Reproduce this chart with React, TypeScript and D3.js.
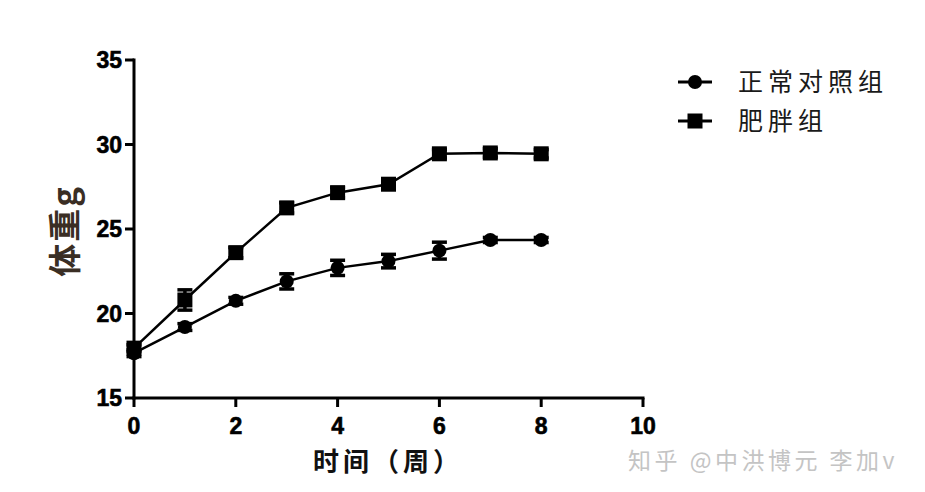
import React from "react";
import * as d3 from "d3";

const weeks = [0, 1, 2, 3, 4, 5, 6, 7, 8];
const normalMean = [17.65, 19.2, 20.75, 21.9, 22.7, 23.1, 23.72, 24.35, 24.35];
const normalErr = [0.2, 0.2, 0.2, 0.45, 0.45, 0.4, 0.5, 0.15, 0.15];
const obeseMean = [17.95, 20.8, 23.6, 26.25, 27.15, 27.65, 29.45, 29.5, 29.45];
const obeseErr = [0.2, 0.6, 0.3, 0.3, 0.3, 0.3, 0.25, 0.25, 0.25];
const xTicks = [0, 2, 4, 6, 8, 10];
const yTicks = [15, 20, 25, 30, 35];
const seriesNames = ["正常对照组", "肥胖组"];

const W = 925;
const H = 492;

export default function App() {
  const x = d3.scaleLinear().domain([0, 10]).range([134, 643]);
  const y = d3.scaleLinear().domain([15, 35]).range([398, 60]);
  const line = d3
    .line<number>()
    .x((_, i) => x(weeks[i]))
    .y((d) => y(d));

  const tickFont = "'Liberation Sans Narrow', 'Liberation Sans', Arial, sans-serif";
  const cjk = "'Noto Sans CJK SC', 'Noto Sans', sans-serif";
  const capW = 7.5;

  const errBars = (means: number[], errs: number[], key: string) =>
    means.map((m, i) => {
      const cx = x(weeks[i]);
      const y1 = y(m + errs[i]);
      const y2 = y(m - errs[i]);
      return (
        <g key={key + i} stroke="#000" strokeWidth={3.5}>
          <line x1={cx} x2={cx} y1={y1} y2={y2} />
          <line x1={cx - capW} x2={cx + capW} y1={y1} y2={y1} />
          <line x1={cx - capW} x2={cx + capW} y1={y2} y2={y2} />
        </g>
      );
    });

  return (
    <svg width={W} height={H} style={{ position: "absolute", left: 0, top: 0, background: "#fff" }}>
      <rect width={W} height={H} fill="#fff" />
      {/* axes */}
      <g stroke="#000" strokeWidth={3} fill="none">
        <line x1={x(0)} x2={x(0)} y1={y(35) - 1.5} y2={y(15) + 1.5} />
        <line x1={x(0) - 1.5} x2={x(10) + 1.5} y1={y(15)} y2={y(15)} />
        {yTicks.map((t) => (
          <line key={"yt" + t} x1={x(0) - 9} x2={x(0)} y1={y(t)} y2={y(t)} />
        ))}
        {xTicks.map((t) => (
          <line key={"xt" + t} x1={x(t)} x2={x(t)} y1={y(15)} y2={y(15) + 9} />
        ))}
      </g>
      <g fontFamily={tickFont} fontWeight="bold" fontSize={23} fill="#000" stroke="#000" strokeWidth={0.6}>
        {yTicks.map((t) => (
          <text key={"yl" + t} x={x(0) - 12} y={y(t)} dy="0.36em" textAnchor="end">
            {t}
          </text>
        ))}
        {xTicks.map((t) => (
          <text key={"xl" + t} x={x(t)} y={y(15) + 36} textAnchor="middle">
            {t}
          </text>
        ))}
      </g>
      {/* axis titles */}
      <text
        transform={`translate(77,231) rotate(-90)`}
        textAnchor="middle"
        fontFamily={cjk}
        fontWeight="bold"
        fontSize={33}
        letterSpacing={2}
        fill="#3a2e24"
      >
        体重g
      </text>
      <text
        x={388}
        y={471}
        textAnchor="middle"
        fontFamily={cjk}
        fontWeight="bold"
        fontSize={26}
        letterSpacing={4}
        fill="#111"
      >
        时间（周）
      </text>
      {/* lines */}
      <path d={line(obeseMean) || ""} fill="none" stroke="#000" strokeWidth={2.5} />
      <path d={line(normalMean) || ""} fill="none" stroke="#000" strokeWidth={2.5} />
      {errBars(obeseMean, obeseErr, "oe")}
      {errBars(normalMean, normalErr, "ne")}
      {obeseMean.map((m, i) => (
        <rect key={"sq" + i} x={x(weeks[i]) - 7.5} y={y(m) - 7.5} width={15} height={15} fill="#000" />
      ))}
      {normalMean.map((m, i) => (
        <circle key={"c" + i} cx={x(weeks[i])} cy={y(m)} r={7} fill="#000" />
      ))}
      {/* legend */}
      <g>
        <line x1={678} x2={712} y1={82} y2={82} stroke="#000" strokeWidth={3} />
        <circle cx={695} cy={82} r={7} fill="#000" />
        <line x1={678} x2={712} y1={121} y2={121} stroke="#000" strokeWidth={3} />
        <rect x={687.5} y={113.5} width={15} height={15} fill="#000" />
        <text x={738} y={82} dy="0.36em" fontFamily={cjk} fontSize={25} letterSpacing={5} fill="#1a1a1a">
          {seriesNames[0]}
        </text>
        <text x={738} y={121} dy="0.36em" fontFamily={cjk} fontSize={25} letterSpacing={5} fill="#1a1a1a">
          {seriesNames[1]}
        </text>
      </g>
      {/* watermark */}
      <text x={628} y={469} fontFamily={cjk} fontSize={23} letterSpacing={3.5} fill="#c4c4c4">
        知乎 @中洪博元 李加v
      </text>
    </svg>
  );
}
